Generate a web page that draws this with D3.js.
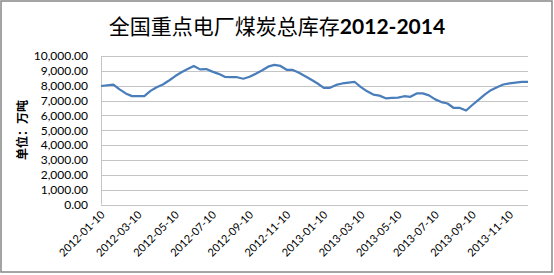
<!DOCTYPE html>
<html lang="zh">
<head>
<meta charset="UTF-8">
<title>全国重点电厂煤炭总库存</title>
<script src="https://d3js.org/d3.v7.min.js"></script>
<style>
  body { margin: 0; background: #fff; }
  .grid line { stroke: #c4c4c4; stroke-width: 1; }
  .axis text { font-family: Lato, "Liberation Sans", sans-serif; font-size: 12px; fill: #000; }
</style>
</head>
<body>
<div id="chart"></div>
<script>
// title + axis
const titleCn = "全国重点电厂煤炭总库存";
const titleYears = "2012-2014";
const yLabel = "单位：万吨";
const yTicks = [0, 1000, 2000, 3000, 4000, 5000, 6000, 7000, 8000, 9000, 10000];

// dates every 10 days, 2012-01-10 .. 2013-12-10
const dates = [];
["2012", "2013"].forEach(y => {
  for (let m = 1; m <= 12; m++) {
    ["10", "20", "30"].forEach(d => {
      const mm = m < 10 ? "0" + m : "" + m;
      dates.push(y + "-" + mm + "-" + d);
    });
  }
});
dates.splice(70); // last point 2013-12-10

// stocks (10k tonnes)
const stock = [
  7980, 8030, 8080, 7750, 7480, 7300, 7300, 7300, 7650, 7900,
  8080, 8350, 8650, 8900, 9120, 9330, 9100, 9120, 8950, 8800,
  8600, 8580, 8570, 8470, 8600, 8800, 9020, 9280, 9400, 9330,
  9070, 9060, 8870, 8640, 8400, 8150, 7850, 7860, 8050, 8150,
  8200, 8250, 7900, 7620, 7400, 7330, 7150, 7180, 7200, 7290,
  7250, 7480, 7480, 7350, 7080, 6900, 6800, 6500, 6500, 6330,
  6700, 7050, 7400, 7700, 7900, 8080, 8150, 8200, 8250, 8260
];

const width = 554, height = 275;
const margin = { left: 101, right: 26, top: 56, bottom: 70.5 };

const svg = d3.select("#chart").append("svg")
  .attr("width", width)
  .attr("height", height);

// outer frame
svg.append("rect")
  .attr("x", 1).attr("y", 1)
  .attr("width", 551).attr("height", 271)
  .attr("fill", "#fff")
  .attr("stroke", "#878787")
  .attr("stroke-width", 1.5);

const x = d3.scalePoint()
  .domain(dates)
  .range([margin.left, width - margin.right]);

const y = d3.scaleLinear()
  .domain([0, 10000])
  .range([height - margin.bottom, margin.top]);

// horizontal grid
svg.append("g").attr("class", "grid")
  .selectAll("line")
  .data(yTicks)
  .enter().append("line")
  .attr("x1", margin.left)
  .attr("x2", width - margin.right)
  .attr("y1", d => Math.round(y(d)) + 0.5)
  .attr("y2", d => Math.round(y(d)) + 0.5);

// left axis line
svg.append("line")
  .attr("x1", margin.left + 0.5).attr("x2", margin.left + 0.5)
  .attr("y1", y(10000)).attr("y2", y(0))
  .attr("stroke", "#c4c4c4");

// y axis labels
const yAxis = d3.axisLeft(y)
  .tickValues(yTicks)
  .tickFormat(d3.format(",.2f"))
  .tickSize(0)
  .tickPadding(13);

svg.append("g")
  .attr("class", "axis")
  .attr("transform", "translate(" + margin.left + ",0)")
  .call(yAxis)
  .call(g => g.select(".domain").remove());

// x axis labels, one every two months
const xAxis = d3.axisBottom(x)
  .tickValues(dates.filter((d, i) => i % 6 === 0))
  .tickSize(0)
  .tickPadding(0);

const gx = svg.append("g")
  .attr("class", "axis")
  .attr("transform", "translate(0," + y(0) + ")")
  .call(xAxis)
  .call(g => g.select(".domain").remove());

gx.selectAll("text")
  .style("font-size", "11px")
  .attr("text-anchor", "end")
  .attr("dy", 0)
  .attr("transform", "translate(4,11) rotate(-45)");

// line
const line = d3.line()
  .x((d, i) => x(dates[i]))
  .y(d => y(d))
  .curve(d3.curveLinear);

svg.append("path")
  .datum(stock)
  .attr("fill", "none")
  .attr("stroke", "#4a7ebb")
  .attr("stroke-width", 2.25)
  .attr("stroke-linejoin", "round")
  .attr("d", line);

// title
const title = svg.append("text")
  .attr("x", 277)
  .attr("y", 34)
  .attr("text-anchor", "middle")
  .style("font-size", "21px");
title.append("tspan")
  .style("font-family", "'Noto Sans CJK SC', sans-serif")
  .text(titleCn);
title.append("tspan")
  .style("font-family", "Lato, 'Liberation Sans', sans-serif")
  .style("font-weight", "bold")
  .text(titleYears);

// y label
svg.append("text")
  .attr("transform", "translate(27,130) rotate(-90)")
  .attr("text-anchor", "middle")
  .style("font-family", "'Noto Sans CJK SC', serif")
  .style("font-size", "12px")
  .style("font-weight", "bold")
  .text(yLabel);
</script>
</body>
</html>
